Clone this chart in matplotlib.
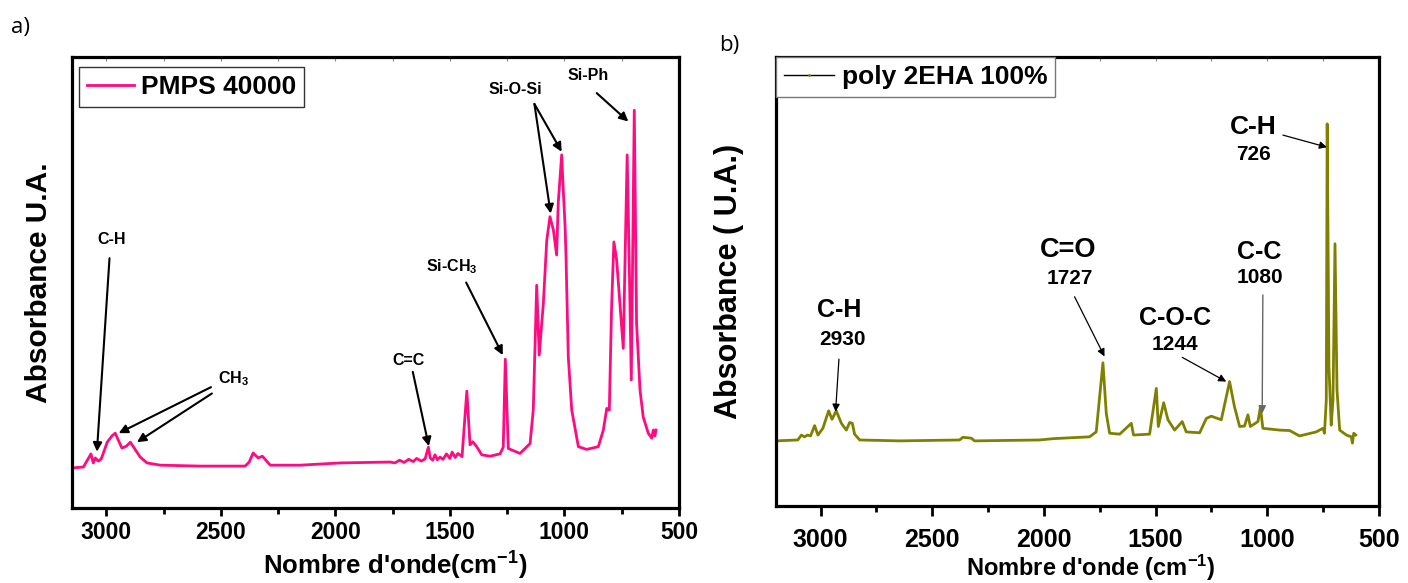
import matplotlib.pyplot as plt
from matplotlib.lines import Line2D
from matplotlib.ticker import MultipleLocator

plt.rcParams['font.family'] = ['Liberation Sans', 'DejaVu Sans']
plt.rcParams['font.weight'] = 'bold'
plt.rcParams['mathtext.fontset'] = 'custom'
plt.rcParams['mathtext.rm'] = 'Liberation Sans:bold'
plt.rcParams['mathtext.default'] = 'rm'

# a) PMPS 40000 - spectre
pmps_wn = [3144, 3100, 3067, 3057, 3048, 3035, 3022, 2996, 2975, 2961, 2948, 2932,
           2913, 2895, 2873, 2852, 2822, 2764, 2590, 2394, 2376, 2359, 2337, 2319,
           2284, 2154, 1979, 1761, 1740, 1720, 1700, 1680, 1660, 1645, 1625, 1608,
           1594, 1586, 1575, 1565, 1555, 1543, 1530, 1515, 1500, 1490, 1477, 1465,
           1447, 1426, 1412, 1400, 1383, 1361, 1325, 1281, 1267, 1258, 1245, 1194,
           1150, 1136, 1121, 1110, 1092, 1077, 1063, 1048, 1034, 1027, 1012, 1005,
           997, 993, 983, 968, 939, 903, 852, 830, 815, 804, 794, 784, 772, 760,
           743, 726, 717, 708, 695, 685, 670, 656, 634, 619, 612, 605, 600]
pmps_abs = [0.089, 0.091, 0.120, 0.100, 0.111, 0.104, 0.109, 0.146, 0.160, 0.166, 0.151, 0.133,
            0.137, 0.146, 0.129, 0.113, 0.100, 0.095, 0.093, 0.093, 0.102, 0.122, 0.111, 0.115,
            0.095, 0.095, 0.100, 0.102, 0.100, 0.106, 0.101, 0.108, 0.103, 0.110, 0.104, 0.109,
            0.135, 0.111, 0.106, 0.118, 0.107, 0.113, 0.108, 0.120, 0.110, 0.124, 0.112, 0.121,
            0.114, 0.259, 0.140, 0.147, 0.136, 0.118, 0.115, 0.120, 0.135, 0.330, 0.132, 0.121,
            0.143, 0.217, 0.494, 0.339, 0.454, 0.594, 0.646, 0.616, 0.561, 0.676, 0.783, 0.705,
            0.624, 0.557, 0.335, 0.217, 0.136, 0.130, 0.136, 0.173, 0.221, 0.217, 0.446, 0.590, 0.550, 0.469,
            0.354, 0.783, 0.543, 0.284, 0.882, 0.410, 0.262, 0.202, 0.166, 0.155, 0.173, 0.160, 0.173]

# b) poly 2EHA 100%
eha_wn = [3201, 3102, 3086, 3072, 3058, 3045, 3027, 3012, 2990, 2964, 2949, 2930,
          2907, 2885, 2870, 2858, 2848, 2825, 2646, 2378, 2363, 2325, 2311, 2020,
          1957, 1796, 1766, 1736, 1721, 1706, 1661, 1609, 1599, 1527, 1497, 1488,
          1464, 1445, 1415, 1381, 1363, 1303, 1273, 1251, 1206, 1169, 1147, 1124,
          1102, 1087, 1076, 1042, 1031, 1020, 945, 900, 856, 781, 751, 744, 736,
          732, 724, 714, 706, 697, 688, 676, 646, 624, 619, 613, 604]
eha_abs = [0.145, 0.147, 0.158, 0.154, 0.158, 0.156, 0.179, 0.158, 0.173, 0.212, 0.193, 0.212,
           0.184, 0.169, 0.186, 0.184, 0.160, 0.147, 0.145, 0.147, 0.153, 0.151, 0.145, 0.147,
           0.150, 0.154, 0.165, 0.319, 0.206, 0.162, 0.160, 0.184, 0.158, 0.160, 0.262, 0.177,
           0.230, 0.192, 0.169, 0.188, 0.165, 0.163, 0.195, 0.200, 0.192, 0.277, 0.221, 0.177,
           0.178, 0.203, 0.177, 0.188, 0.220, 0.173, 0.169, 0.168, 0.156, 0.165, 0.173, 0.162, 0.236,
           0.851, 0.310, 0.180, 0.236, 0.584, 0.258, 0.169, 0.158, 0.154, 0.140, 0.162, 0.158]

pink = '#FF0A80'
olive = '#808000'

fig = plt.figure(figsize=(14.08, 5.83), dpi=100)
ax1 = fig.add_axes([0.0511, 0.1286, 0.4311, 0.7736])
ax2 = fig.add_axes([0.5511, 0.1321, 0.4283, 0.7702])

ax1.plot(pmps_wn, pmps_abs, color=pink, lw=2.0, label='PMPS 40000')
ax2.plot(eha_wn, eha_abs, color=olive, lw=2.0)

for ax, lim in ((ax1, (3150, 500)), (ax2, (3200, 500))):
    ax.set_xlim(*lim)
    ax.set_ylim(0, 1)
    ax.set_yticks([])
    ax.xaxis.set_major_locator(MultipleLocator(500))
    ax.xaxis.set_minor_locator(MultipleLocator(250))
    for s in ax.spines.values():
        s.set_linewidth(2.3)
    top = ax.secondary_xaxis('top')
    top.xaxis.set_major_locator(MultipleLocator(250))
    top.tick_params(direction='in', length=3, width=0.8, colors='#888888', labeltop=False)
    top.spines['top'].set_visible(False)

ax1.tick_params(axis='x', which='major', length=6, width=2, labelsize=16.5, pad=3)
ax1.tick_params(axis='x', which='minor', length=4, width=2)
ax2.tick_params(axis='x', which='major', length=7, width=2, labelsize=18, pad=9)
ax2.tick_params(axis='x', which='minor', length=4, width=2)

ax1.set_xlabel("Nombre d'onde(cm$^{-1}$)", fontsize=18.5, fontweight='bold')
ax1.xaxis.set_label_coords(0.532, -0.093)
ax1.set_ylabel('Absorbance U.A.', fontsize=21.5, fontweight='bold')
ax1.yaxis.set_label_coords(-0.031, 0.5)
ax2.set_xlabel("Nombre d'onde (cm$^{-1}$)", fontsize=17, fontweight='bold')
ax2.xaxis.set_label_coords(0.522, -0.104)
ax2.set_ylabel('Absorbance ( U.A.)', fontsize=22, fontweight='bold')
ax2.yaxis.set_label_coords(-0.053, 0.5)

leg1 = ax1.legend(loc='upper left', bbox_to_anchor=(0.0115, 0.978), borderaxespad=0,
                  fontsize=19, handlelength=1.8, handletextpad=0.25, borderpad=0.3,
                  fancybox=False, framealpha=1, edgecolor='#333333')
leg1.get_frame().set_linewidth(1.0)

eha_handle = Line2D([], [], color='black', lw=1.0, marker='.', markersize=2,
                    markerfacecolor=olive, markeredgecolor=olive)
leg2 = ax2.legend([eha_handle], ['poly 2EHA 100%'], loc='upper left', bbox_to_anchor=(0, 1),
                  borderaxespad=0, fontsize=19, handlelength=1.9, handletextpad=0.3,
                  borderpad=0.3, fancybox=False, framealpha=1, edgecolor='#777777')
leg2.get_frame().set_linewidth(1.0)

# annotations a)
big = dict(arrowstyle='-|>', lw=1.5, color='black', mutation_scale=13, shrinkA=0, shrinkB=0)
fs1 = 11.5
ax1.text(2975, 0.596, 'C-H', fontsize=fs1, ha='center', va='center')
ax1.annotate('', xy=(3041, 0.125), xytext=(2986, 0.554), arrowprops=big)
ax1.text(2512, 0.276, 'CH$_3$', fontsize=fs1, ha='left', va='baseline')
ax1.annotate('', xy=(2946, 0.166), xytext=(2543, 0.268), arrowprops=big)
ax1.annotate('', xy=(2866, 0.146), xytext=(2539, 0.254), arrowprops=big)
ax1.text(1681, 0.327, 'C=C', fontsize=fs1, ha='center', va='center')
ax1.annotate('', xy=(1592, 0.137), xytext=(1662, 0.302), arrowprops=big)
ax1.text(1604, 0.524, 'Si-CH$_3$', fontsize=fs1, ha='left', va='baseline')
ax1.annotate('', xy=(1269, 0.339), xytext=(1429, 0.500), arrowprops=big)
ax1.text(1216, 0.927, 'Si-O-Si', fontsize=fs1, ha='center', va='center')
ax1.annotate('', xy=(1060, 0.653), xytext=(1131, 0.896), arrowprops=big)
ax1.annotate('', xy=(1012, 0.790), xytext=(1131, 0.896), arrowprops=big)
ax1.text(896, 0.958, 'Si-Ph', fontsize=fs1, ha='center', va='center')
ax1.annotate('', xy=(721, 0.857), xytext=(859, 0.920), arrowprops=big)

# annotations b)
thin = dict(arrowstyle='-|>', lw=0.9, color='black', mutation_scale=11, shrinkA=0, shrinkB=0)
grey = dict(arrowstyle='-|>', lw=1.0, color='#666666', mutation_scale=11, shrinkA=0, shrinkB=0)
labels_b = [
    (2915, 0.437, 'C-H', 18, 2900, 0.370, '2930', (2933, 0.210), (2918, 0.327), thin),
    (1893, 0.570, 'C=O', 19.5, 1885, 0.507, '1727', (1729, 0.333), (1863, 0.466), thin),
    (1415, 0.418, 'C-O-C', 18, 1415, 0.359, '1244', (1184, 0.277), (1381, 0.331), thin),
    (1035, 0.566, 'C-C', 18, 1035, 0.509, '1080', (1023, 0.206), (1020, 0.470), grey),
    (1065, 0.845, 'C-H', 19, 1060, 0.782, '726', (733, 0.799), (930, 0.826), thin),
]
for x, y, t, fs, xn, yn, n, tip, tail, props in labels_b:
    ax2.text(x, y, t, fontsize=fs, ha='center', va='center')
    ax2.text(xn, yn, n, fontsize=15, ha='center', va='center')
    ax2.annotate('', xy=tip, xytext=tail, arrowprops=props)

fig.text(20 / 1408, 1 - 28 / 583, 'a)', fontsize=16, fontweight='normal',
         family=['Open Sans', 'DejaVu Sans'], ha='center', va='center')
fig.text(729 / 1408, 1 - 46 / 583, 'b)', fontsize=16, fontweight='normal',
         family=['Open Sans', 'DejaVu Sans'], ha='center', va='center')

fig.savefig('out.png', dpi=100)
